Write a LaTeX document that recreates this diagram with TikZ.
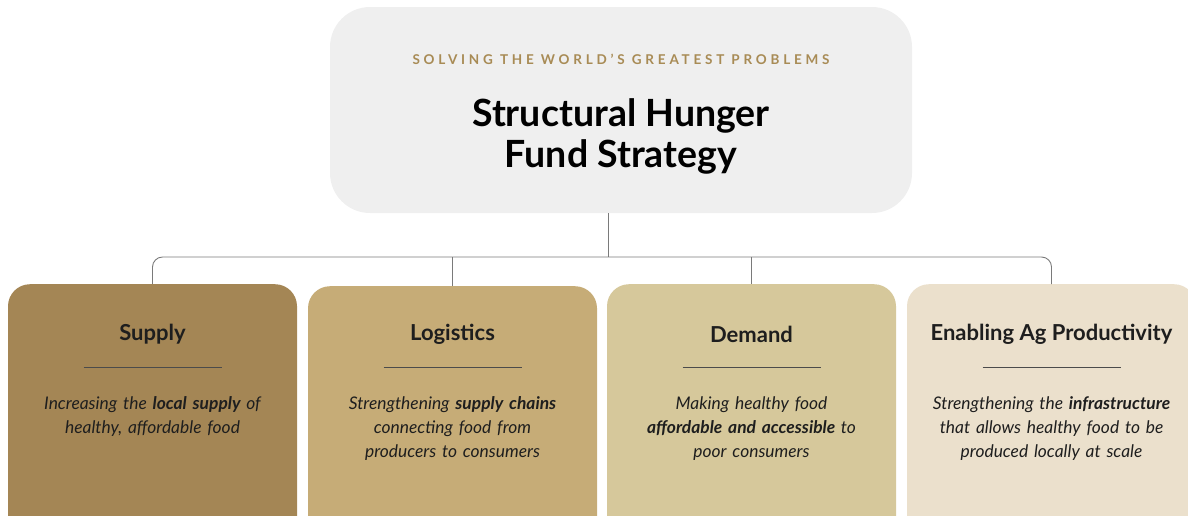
\documentclass[tikz,border=0pt]{standalone}
\usepackage{fontspec}
\setmainfont{Lato}
\definecolor{topfill}{HTML}{EFEFEF}
\definecolor{gold}{HTML}{A88B55}
\definecolor{c1}{HTML}{A48655}
\definecolor{c2}{HTML}{C6AC77}
\definecolor{c3}{HTML}{D6C89B}
\definecolor{c4}{HTML}{EBE0CC}
\definecolor{linec}{HTML}{7A7A7A}
\definecolor{txt}{HTML}{1E1E1E}
\tikzset{
  topbox/.style={fill=topfill, rounded corners=40pt, minimum width=582pt, minimum height=206pt, inner sep=0pt},
  pillar/.style={rounded corners=22pt, minimum width=289pt, minimum height=280pt, inner sep=0pt, anchor=north},
  heading/.style={font=\fontsize{22}{26}\selectfont\bfseries, text=txt},
  body/.style={font=\fontsize{17.4}{24}\selectfont\itshape, text=txt, align=center, anchor=north, text width=285pt, inner sep=0pt},
  sep/.style={draw=txt!80, line width=0.8pt},
  conn/.style={draw=linec, line width=0.9pt},
}
\begin{document}
\begin{tikzpicture}[x=1pt,y=-1pt]
\useasboundingbox (0,0) rectangle (1188,515);
\clip (0,0) rectangle (1188,515);
\node[topbox] (top) at (621,110) {};
\node[font=\fontsize{13.5}{15}\selectfont\bfseries\addfontfeature{LetterSpace=28}, text=gold] (sub) at (621,59) {SOLVING THE WORLD'S GREATEST PROBLEMS};
\node[font=\fontsize{37.5}{41}\selectfont\bfseries, text=black, align=center] (title) at (621,136) {Structural Hunger\\Fund Strategy};

\node[pillar, fill=c1] (b1) at (152.5,284) {};
\node[pillar, fill=c2] (b2) at (452.5,286) {};
\node[pillar, fill=c3] (b3) at (751.5,284) {};
\node[pillar, fill=c4] (b4) at (1051.5,284) {};

\coordinate (bus) at (608,257);
\draw[conn] (bus |- top.south) -- (bus);
\draw[conn, rounded corners=10pt] (b1.north) -- (b1.north |- bus) -- (b4.north |- bus) -- (b4.north);
\draw[conn] (b2.north) -- (b2.north |- bus);
\draw[conn] (b3.north) -- (b3.north |- bus);

\node[heading] (h1) at (152.5,334) {Supply};
\node[heading] (h2) at (452.5,334) {Logistics};
\node[heading] (h3) at (751.5,334) {Demand};
\node[heading] (h4) at (1051.5,334) {Enabling Ag Productivity};

\foreach \n/\x in {1/152.5,2/452.5,3/751.5,4/1051.5}{
  \coordinate (sl\n) at (\x-69,367);
  \coordinate (sr\n) at (\x+69,367);
  \draw[sep] (sl\n) -- (sr\n);
}

\node[body] (t1) at (152.5,396) {Increasing the \textbf{local supply} of\\healthy, affordable food};
\node[body] (t2) at (452.5,396) {Strengthening \textbf{supply chains}\\connecting food from\\producers to consumers};
\node[body] (t3) at (751.5,396) {Making healthy food\\\textbf{affordable and accessible} to\\poor consumers};
\node[body] (t4) at (1051.5,396) {Strengthening the \textbf{infrastructure}\\that allows healthy food to be\\produced locally at scale};
\end{tikzpicture}
\end{document}
